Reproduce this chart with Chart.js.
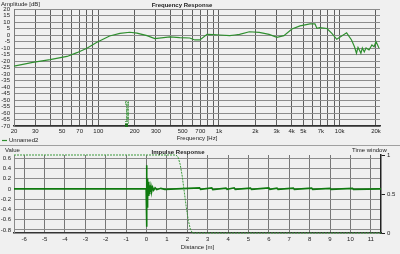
<!DOCTYPE html>
<html>
<head>
<meta charset="utf-8">
<script src="https://cdn.jsdelivr.net/npm/chart.js@4.4.0/dist/chart.umd.min.js"></script>
<style>
  body { margin: 0; background: #f0f0f0; }
  #wrap { position: relative; width: 400px; height: 254px; overflow: hidden; }
  canvas { position: absolute; left: 0; }
  #frChart { top: 0; }
  #irChart { top: 145px; }
</style>
</head>
<body>
<div id="wrap">
  <canvas id="frChart" width="400" height="145"></canvas>
  <canvas id="irChart" width="400" height="109"></canvas>
</div>
<script>
// Frequency response
const freqs = [20, 28.6, 39.8, 55, 66.5, 80.4, 97.4, 124, 151, 182, 209, 253, 294, 393, 473, 573, 630, 695,
  796, 900, 1017, 1227, 1350, 1480, 1786, 2155, 2600, 3024, 3451, 4025, 4697, 5680, 6246, 6484, 6860,
  7846, 8618, 9466, 10398, 11423, 12548, 13270, 13785, 14200, 14581, 15000, 15424, 16000, 16550, 17508,
  18520, 19300, 20010, 21170];
const amplitudeDb = [-24, -21, -19, -16.5, -13.6, -10.2, -5.6, -0.8, 1.3, 2.1, 1.5, -0.5, -2.8, -1.5, -2, -2.3, -3.8, -3.8,
  0.5, 0.3, 0, -0.5, 0, 0.5, 2.5, 2, 0.5, -1.8, -0.5, 4.6, 7, 8.5, 8.5, 5.1, 5.6,
  5, 1.3, -3.3, -0.8, 1.7, -3.8, -9, -14, -9.5, -11.5, -14, -10, -13, -10, -11.5,
  -7.7, -9, -5, -10];

const freqGrid = [20, 30, 40, 50, 60, 70, 80, 90, 100, 200, 300, 400, 500, 600, 700, 800, 900,
  1000, 2000, 3000, 4000, 5000, 6000, 7000, 8000, 9000, 10000, 20000];
const freqLabels = { 20: "20", 30: "30", 50: "50", 70: "70", 100: "100", 200: "200", 300: "300",
  500: "500", 700: "700", 1000: "1k", 2000: "2k", 3000: "3k", 4000: "4k", 5000: "5k", 7000: "7k",
  10000: "10k", 20000: "20k" };
const dbTicks = [20, 15, 10, 5, 0, -5, -10, -15, -20, -25, -30, -35, -40, -45, -50, -55, -60, -65, -70];

// Impulse response
const irDistance = [-6.5, -0.02, 0, 0.01, 0.02, 0.03, 0.045, 0.06, 0.08, 0.1, 0.12, 0.14, 0.16, 0.19, 0.22,
  0.26, 0.3, 0.35, 0.42, 0.5, 0.7, 0.9, 2.6, 2.65, 3.2, 3.25, 3.9, 3.95, 4.3, 4.35, 5.1, 5.15,
  6.0, 6.05, 6.4, 6.45, 7.2, 7.25, 8.1, 8.15, 9.0, 9.05, 10.1, 10.15, 11.5];
const irValue = [0, 0, 0.46, -0.74, 0.25, -0.35, 0.2, -0.2, 0.14, -0.14, 0.1, -0.09, 0.07, -0.06, 0.05,
  -0.04, 0.03, -0.025, 0.02, -0.015, 0.01, -0.01, 0.02, -0.01, 0.02, -0.015, 0.015, -0.01, 0.02, -0.01, 0.015, -0.01,
  0.02, -0.01, 0.015, -0.01, 0.015, -0.01, 0.015, -0.01, 0.01, -0.01, 0.01, -0.01, 0];
const windowDistance = [-6.5, 1.45, 1.55, 1.65, 1.75, 1.85, 1.95, 2.05, 2.15, 2.25, 11.5];
const windowValue = [1, 1, 0.97, 0.88, 0.73, 0.53, 0.33, 0.16, 0.05, 0, 0];

const distTicks = [-6, -5, -4, -3, -2, -1, 0, 1, 2, 3, 4, 5, 6, 7, 8, 9, 10, 11];
const valueTicks = [0.6, 0.4, 0.2, 0, -0.2, -0.4, -0.6, -0.8];
const windowTicks = [0, 0.5, 1];

const tiny = { family: "Liberation Sans", size: 6 };
const textColor = "#222";

function toPoints(xs, ys) {
    return xs.map((x, i) => ({ x: x, y: ys[i] }));
}

// extra text for the top panel: headers, legend and marker label
const frText = {
    id: "frText",
    afterDraw(chart) {
        const c = chart.ctx;
        c.save();
        c.fillStyle = textColor;
        c.textBaseline = "middle";
        c.font = "6px 'Liberation Sans'";
        c.fillText("Amplitude [dB]", 1, 4);
        c.font = "bold 6px 'Liberation Sans'";
        c.textAlign = "center";
        c.fillText("Frequency Response", 182, 5);
        c.textAlign = "left";
        c.font = "6px 'Liberation Sans'";
        c.strokeStyle = "#2f8f2f";
        c.lineWidth = 1.2;
        c.beginPath();
        c.moveTo(2, 140.5);
        c.lineTo(7, 140.5);
        c.stroke();
        c.fillText("Unnamed2", 9, 140.5);
        // marker at the bottom of the plot, label turned upright
        c.fillStyle = "#1f6f1f";
        c.fillRect(125, 124, 3, 3);
        c.fillStyle = "#2f8f2f";
        c.translate(127.5, 124);
        c.rotate(-Math.PI / 2);
        c.font = "bold 4.5px 'Liberation Sans'";
        c.fillText("Unnamed2", 0, 0);
        c.restore();
    }
};

const irText = {
    id: "irText",
    afterDraw(chart) {
        const c = chart.ctx;
        c.save();
        c.strokeStyle = "#a0a0a0";
        c.lineWidth = 1;
        c.beginPath();
        c.moveTo(0, 0.5);
        c.lineTo(400, 0.5);
        c.stroke();
        c.fillStyle = textColor;
        c.textBaseline = "middle";
        c.font = "6px 'Liberation Sans'";
        c.fillText("Value", 5, 5);
        c.fillText("Time window", 352, 5);
        c.font = "bold 6px 'Liberation Sans'";
        c.textAlign = "center";
        c.fillText("Impulse Response", 178, 7);
        c.restore();
    }
};

new Chart(document.getElementById("frChart"), {
    type: "line",
    data: {
        datasets: [{
            data: toPoints(freqs, amplitudeDb),
            borderColor: "#2f8f2f",
            borderWidth: 1.2,
            pointRadius: 0,
            tension: 0
        }]
    },
    options: {
        responsive: false,
        animation: false,
        layout: { padding: { top: 9, right: 20, left: 0, bottom: 0 } },
        plugins: { legend: { display: false }, tooltip: { enabled: false } },
        scales: {
            x: {
                type: "logarithmic",
                min: 20,
                max: 21600,
                afterBuildTicks: s => { s.ticks = freqGrid.map(v => ({ value: v })); },
                afterFit: s => { s.height = 19; },
                ticks: {
                    autoSkip: false, maxRotation: 0, padding: 2, font: tiny, color: textColor,
                    callback: v => freqLabels[v] || ""
                },
                grid: { color: "#5e5e5e", drawTicks: false },
                border: { color: "#333", width: 1.5 },
                title: { display: true, text: "Frequency [Hz]", font: tiny, color: textColor, padding: { top: 0, bottom: 3 } }
            },
            y: {
                min: -70,
                max: 20,
                afterBuildTicks: s => { s.ticks = dbTicks.map(v => ({ value: v })); },
                afterFit: s => { s.width = 14; },
                ticks: { autoSkip: false, padding: 4, font: tiny, color: textColor, callback: v => String(v) },
                grid: { color: "#8c8c8c", drawTicks: false },
                border: { color: "#7a7a7a" }
            }
        }
    },
    plugins: [frText]
});

new Chart(document.getElementById("irChart"), {
    type: "line",
    data: {
        datasets: [{
            data: toPoints(windowDistance, windowValue),
            yAxisID: "yw",
            borderColor: "#3c9a3c",
            borderWidth: 1,
            borderDash: [2, 1],
            pointRadius: 0,
            tension: 0,
            clip: 2
        }, {
            data: toPoints(irDistance, irValue),
            yAxisID: "y",
            borderColor: "#0f7a0f",
            borderWidth: 1.6,
            pointRadius: 0,
            tension: 0
        }]
    },
    options: {
        responsive: false,
        animation: false,
        layout: { padding: { top: 10, right: 0, left: 0, bottom: 0 } },
        plugins: { legend: { display: false }, tooltip: { enabled: false } },
        scales: {
            x: {
                type: "linear",
                min: -6.5,
                max: 11.5,
                afterBuildTicks: s => { s.ticks = distTicks.map(v => ({ value: v })); },
                afterFit: s => { s.height = 21; },
                ticks: { autoSkip: false, maxRotation: 0, padding: 3, font: tiny, color: textColor },
                grid: { color: "#777", drawTicks: false },
                border: { color: "#333", width: 1.5 },
                title: { display: true, text: "Distance [m]", font: tiny, color: textColor, padding: { top: 0, bottom: 3 } }
            },
            y: {
                position: "left",
                min: -0.86,
                max: 0.66,
                afterBuildTicks: s => { s.ticks = valueTicks.map(v => ({ value: v })); },
                afterFit: s => { s.width = 14; },
                ticks: { autoSkip: false, padding: 3, font: tiny, color: textColor, callback: v => String(v) },
                grid: { color: "#8c8c8c", drawTicks: false },
                border: { color: "#8a8a8a" }
            },
            yw: {
                position: "right",
                min: 0,
                max: 1,
                afterBuildTicks: s => { s.ticks = windowTicks.map(v => ({ value: v })); },
                afterFit: s => { s.width = 19; },
                ticks: { autoSkip: false, padding: 2, font: tiny, color: textColor, callback: v => String(v) },
                grid: { drawOnChartArea: false, tickLength: 4, color: "#222" },
                border: { color: "#222", width: 1.5 }
            }
        }
    },
    plugins: [irText]
});
</script>
</body>
</html>
